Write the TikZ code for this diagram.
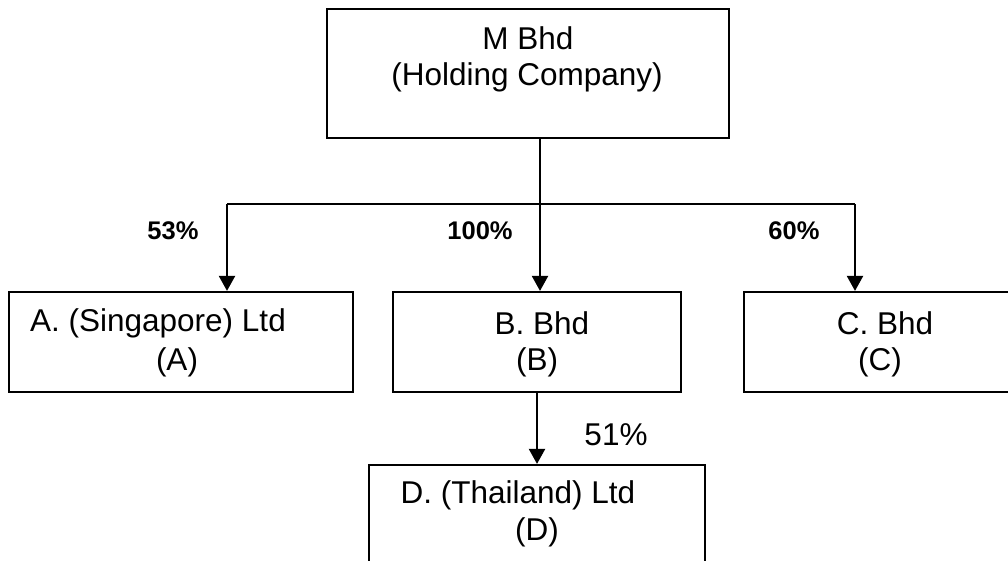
\documentclass[tikz,border=0pt]{standalone}
\usepackage{fontspec}
\setmainfont{Liberation Sans}
\usetikzlibrary{arrows.meta}
\begin{document}
\begin{tikzpicture}[x=1pt,y=-1pt,
  box/.style={draw, line width=2.2pt, inner sep=0pt},
  txt/.style={inner sep=0pt, font=\fontsize{31.5}{37}\selectfont},
  pct/.style={inner sep=0pt, font=\fontsize{25.5}{30}\selectfont\bfseries},
  link/.style={line width=2.2pt},
  arr/.style={link, -{Triangle[length=15pt,width=16pt]}}]
\useasboundingbox (0,0) rectangle (1008,560);
\clip (0,0) rectangle (1008,560);

% company boxes
\node[box, minimum width=402pt, minimum height=129pt] (m) at (528,73.5) {};
\node[box, minimum width=344pt, minimum height=100pt] (a) at (181,342) {};
\node[box, minimum width=288pt, minimum height=100pt] (b) at (537,342) {};
\node[box, minimum width=282pt, minimum height=100pt] (c) at (885,342) {};
\node[box, minimum width=336pt, minimum height=102pt] (d) at (537,516) {};

% box texts
\node[txt] (m1) at (528,38) {M Bhd};
\node[txt] (m2) at (527,77) {(Holding Company)};
\node[txt] (a1) at (158,323) {A. (Singapore) Ltd};
\node[txt] (a2) at (177,362) {(A)};
\node[txt] (b1) at (542,323) {B. Bhd};
\node[txt] (b2) at (537,362) {(B)};
\node[txt] (c1) at (885,323) {C. Bhd};
\node[txt] (c2) at (880,362) {(C)};
\node[txt] (d1) at (518,495) {D. (Thailand) Ltd};
\node[txt] (d2) at (537,532) {(D)};

% branch points of the connector tree
\coordinate (j) at (540,204);
\coordinate (ja) at (227,204);
\coordinate (jc) at (855,204);

\draw[link] (m.south -| j) -- (j);
\draw[link] (ja) -- (jc);
\draw[arr] (ja) -- (ja |- a.north);
\draw[arr] (j) -- (j |- b.north);
\draw[arr] (jc) -- (jc |- c.north);
\draw[arr] (b.south) -- (d.north);

% shareholding percentages
\node[pct] (p53) at (173,231) {53\%};
\node[pct] (p100) at (480,231) {100\%};
\node[pct] (p60) at (794,231) {60\%};
\node[txt] (p51) at (616,435) {51\%};
\end{tikzpicture}
\end{document}
